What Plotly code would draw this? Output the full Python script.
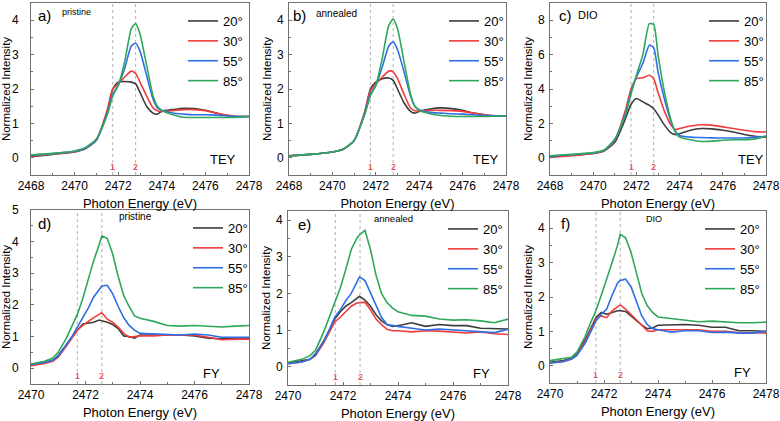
import plotly.graph_objects as go

angles = ["20°", "30°", "55°", "85°"]
colors = ["#3c3c3c", "#f03c3c", "#2f6fe6", "#2ea85a"]

# ---- TEY (top row) energies ----
energy_tey = [2468, 2469, 2470, 2470.5, 2471, 2471.5, 2471.75, 2472, 2472.3, 2472.6, 2472.8,
              2473, 2473.3, 2473.6, 2473.8, 2474, 2474.5, 2475, 2475.5, 2476, 2476.5, 2477, 2477.5, 2478]

a_20 = [0.03, 0.10, 0.17, 0.27, 0.52, 1.35, 2.00, 2.20, 2.22, 2.20, 2.15, 1.90, 1.50, 1.30, 1.27, 1.35, 1.40, 1.44, 1.43, 1.38, 1.30, 1.22, 1.20, 1.20]
a_30 = [0.05, 0.11, 0.18, 0.27, 0.52, 1.40, 2.00, 2.15, 2.35, 2.52, 2.45, 2.20, 1.80, 1.45, 1.37, 1.35, 1.37, 1.40, 1.40, 1.37, 1.30, 1.24, 1.20, 1.20]
a_55 = [0.07, 0.12, 0.19, 0.28, 0.52, 1.30, 1.85, 2.10, 2.60, 3.25, 3.33, 3.10, 2.40, 1.70, 1.45, 1.38, 1.30, 1.27, 1.25, 1.25, 1.24, 1.22, 1.20, 1.20]
a_85 = [0.08, 0.13, 0.20, 0.30, 0.55, 1.25, 1.80, 2.10, 2.80, 3.75, 3.90, 3.60, 2.70, 1.80, 1.50, 1.38, 1.25, 1.18, 1.17, 1.17, 1.17, 1.17, 1.18, 1.20]

b_20 = [0.06, 0.10, 0.17, 0.25, 0.50, 1.35, 2.00, 2.20, 2.30, 2.32, 2.25, 2.00, 1.60, 1.35, 1.30, 1.35, 1.42, 1.45, 1.43, 1.38, 1.30, 1.25, 1.22, 1.22]
b_30 = [0.06, 0.10, 0.17, 0.25, 0.50, 1.35, 1.95, 2.15, 2.35, 2.52, 2.50, 2.30, 1.85, 1.45, 1.37, 1.36, 1.38, 1.38, 1.37, 1.35, 1.30, 1.25, 1.22, 1.22]
b_55 = [0.06, 0.10, 0.17, 0.25, 0.50, 1.30, 1.85, 2.10, 2.65, 3.25, 3.37, 3.15, 2.50, 1.80, 1.50, 1.40, 1.32, 1.30, 1.28, 1.27, 1.25, 1.23, 1.22, 1.22]
b_85 = [0.06, 0.10, 0.17, 0.25, 0.50, 1.28, 1.80, 2.10, 2.90, 3.85, 4.03, 3.75, 2.80, 1.85, 1.50, 1.38, 1.28, 1.23, 1.21, 1.20, 1.20, 1.20, 1.21, 1.22]

c_20 = [0.05, 0.15, 0.25, 0.40, 0.90, 2.30, 3.10, 3.45, 3.25, 3.05, 2.85, 2.50, 1.90, 1.45, 1.35, 1.40, 1.60, 1.70, 1.68, 1.60, 1.50, 1.35, 1.25, 1.20]
c_30 = [0.02, 0.12, 0.25, 0.40, 1.00, 2.80, 4.00, 4.60, 4.65, 4.80, 4.60, 3.80, 2.70, 1.90, 1.65, 1.70, 1.85, 1.92, 1.90, 1.80, 1.70, 1.60, 1.52, 1.50]
c_55 = [0.10, 0.18, 0.28, 0.42, 1.05, 2.60, 3.80, 4.70, 5.50, 6.55, 6.40, 5.00, 3.40, 2.10, 1.55, 1.30, 1.20, 1.18, 1.16, 1.15, 1.15, 1.15, 1.20, 1.25]
c_85 = [0.12, 0.20, 0.30, 0.45, 1.10, 2.50, 3.70, 4.80, 6.00, 7.80, 7.75, 6.00, 3.80, 2.20, 1.50, 1.20, 1.05, 0.95, 0.97, 1.02, 1.05, 1.05, 1.10, 1.25]

# ---- FY (bottom row) energies ----
energy_fy = [2470, 2470.5, 2470.8, 2471, 2471.3, 2471.5, 2471.7, 2471.9, 2472.1, 2472.3, 2472.5, 2472.6, 2472.8,
             2473, 2473.2, 2473.4, 2473.6, 2473.8, 2474, 2474.5, 2475, 2475.5, 2476, 2476.5, 2477, 2477.5, 2478]

d_20 = [0.10, 0.18, 0.25, 0.40, 0.75, 1.00, 1.20, 1.40, 1.42, 1.45, 1.52, 1.50, 1.45, 1.38, 1.25, 1.02, 1.00, 0.95, 1.05, 1.05, 1.05, 1.05, 1.02, 0.95, 0.93, 0.95, 0.93]
d_30 = [0.08, 0.15, 0.22, 0.35, 0.70, 0.95, 1.20, 1.35, 1.48, 1.60, 1.70, 1.75, 1.55, 1.45, 1.30, 1.10, 0.98, 1.00, 1.02, 1.02, 1.05, 1.05, 1.05, 0.98, 0.90, 0.92, 0.92]
d_55 = [0.12, 0.18, 0.25, 0.38, 0.75, 1.00, 1.30, 1.60, 1.90, 2.25, 2.50, 2.60, 2.62, 2.35, 1.95, 1.60, 1.35, 1.20, 1.10, 1.08, 1.05, 1.05, 1.08, 1.05, 0.98, 0.97, 0.98]
d_85 = [0.13, 0.22, 0.32, 0.50, 0.95, 1.30, 1.70, 2.20, 2.80, 3.40, 3.90, 4.18, 4.10, 3.60, 2.90, 2.30, 1.95, 1.65, 1.58, 1.48, 1.35, 1.33, 1.35, 1.33, 1.30, 1.33, 1.35]

e_20 = [0.10, 0.15, 0.20, 0.35, 0.70, 1.00, 1.30, 1.50, 1.65, 1.75, 1.85, 1.92, 1.82, 1.65, 1.42, 1.25, 1.15, 1.10, 1.12, 1.20, 1.10, 1.15, 1.12, 1.12, 1.05, 1.05, 1.03]
e_30 = [0.08, 0.13, 0.20, 0.30, 0.65, 0.95, 1.22, 1.35, 1.50, 1.65, 1.74, 1.75, 1.76, 1.55, 1.30, 1.15, 1.02, 0.98, 0.98, 0.95, 0.98, 0.97, 0.95, 0.92, 0.95, 0.90, 0.88]
e_55 = [0.08, 0.13, 0.20, 0.32, 0.70, 1.00, 1.35, 1.55, 1.80, 2.00, 2.30, 2.45, 2.35, 2.00, 1.65, 1.35, 1.15, 1.12, 1.10, 1.05, 1.00, 1.03, 1.00, 0.98, 0.95, 0.93, 1.02]
e_85 = [0.12, 0.20, 0.30, 0.45, 0.95, 1.35, 1.70, 2.15, 2.65, 3.20, 3.50, 3.60, 3.72, 3.20, 2.50, 2.00, 1.75, 1.60, 1.50, 1.40, 1.38, 1.30, 1.27, 1.28, 1.25, 1.20, 1.30]

f_20 = [0.10, 0.15, 0.22, 0.35, 0.75, 1.10, 1.40, 1.55, 1.50, 1.55, 1.60, 1.60, 1.58, 1.45, 1.32, 1.18, 1.08, 1.10, 1.18, 1.20, 1.20, 1.18, 1.12, 1.12, 1.02, 1.02, 1.00]
f_30 = [0.08, 0.13, 0.20, 0.32, 0.70, 1.05, 1.35, 1.45, 1.40, 1.60, 1.72, 1.77, 1.65, 1.50, 1.35, 1.18, 1.02, 1.00, 1.05, 1.05, 1.05, 1.05, 1.00, 1.00, 0.97, 0.95, 0.95]
f_55 = [0.08, 0.12, 0.20, 0.30, 0.65, 1.00, 1.30, 1.50, 1.65, 2.05, 2.40, 2.48, 2.52, 2.30, 1.85, 1.45, 1.20, 1.08, 1.05, 0.98, 1.02, 1.02, 0.97, 0.98, 0.95, 0.95, 1.00]
f_85 = [0.15, 0.20, 0.25, 0.40, 0.85, 1.25, 1.60, 2.05, 2.50, 3.00, 3.50, 3.82, 3.72, 3.30, 2.70, 2.10, 1.75, 1.55, 1.42, 1.37, 1.32, 1.28, 1.30, 1.27, 1.25, 1.25, 1.27]

# marker lines (energies of features 1 and 2)
lines_a = [2471.75, 2472.8]
lines_b = [2471.75, 2472.8]
lines_c = [2471.75, 2472.8]
lines_d = [2471.7, 2472.6]
lines_e = [2471.72, 2472.62]
lines_f = [2471.7, 2472.6]

panel_letters = ["a)", "b)", "c)", "d)", "e)", "f)"]
sample_names = ["pristine", "annealed", "DIO", "pristine", "annealed", "DIO"]
modes = ["TEY", "TEY", "TEY", "FY", "FY", "FY"]
x_ticks_top = [2468, 2470, 2472, 2474, 2476, 2478]
x_ticks_bottom = [2470, 2472, 2474, 2476, 2478]

W, H = 780, 421
def px_x(v):
    return v / W
def px_y(v):
    return 1 - v / H

panels = [
    dict(x=energy_tey, ys=[a_20, a_30, a_55, a_85], lines=lines_a, xr=[2468, 2478], yr=[-0.5, 4.5], ydt=1,
         dom=(31, 249, 3, 175), spline=True),
    dict(x=energy_tey, ys=[b_20, b_30, b_55, b_85], lines=lines_b, xr=[2468, 2478], yr=[-0.5, 4.5], ydt=1,
         dom=(289, 506, 3, 175), spline=True),
    dict(x=energy_tey, ys=[c_20, c_30, c_55, c_85], lines=lines_c, xr=[2468, 2478], yr=[-1, 9], ydt=2,
         dom=(550, 766, 3, 175), spline=True),
    dict(x=energy_fy, ys=[d_20, d_30, d_55, d_85], lines=lines_d, xr=[2470, 2478], yr=[-0.5, 5], ydt=1,
         dom=(31, 249, 210, 384), spline=False),
    dict(x=energy_fy, ys=[e_20, e_30, e_55, e_85], lines=lines_e, xr=[2470, 2478], yr=[-0.5, 4.25], ydt=1,
         dom=(288, 508, 211, 385), spline=False),
    dict(x=energy_fy, ys=[f_20, f_30, f_55, f_85], lines=lines_f, xr=[2470, 2478], yr=[-0.5, 4.5], ydt=1,
         dom=(550, 766, 211, 383), spline=False),
]

# text positions in axis-domain units
label_pos = [(0.06, 0.93), (0.05, 0.93), (0.07, 0.93), (0.06, 0.925), (0.077, 0.925), (0.07, 0.925)]
sample_pos = [(0.21, 0.95, 9), (0.22, 0.94, 10), (0.175, 0.93, 11), (0.48, 0.965, 10), (0.48, 0.955, 9.5), (0.48, 0.955, 9)]
mode_pos = [(0.88, 0.09), (0.906, 0.093), (0.93, 0.09), (0.83, 0.06), (0.88, 0.065), (0.89, 0.06)]
legend_left = [183, 444, 704, 188, 443, 700]

fig = go.Figure()
layout = dict(width=W, height=H, margin=dict(l=0, r=0, t=0, b=0),
              paper_bgcolor="white", plot_bgcolor="white",
              font=dict(family="Liberation Sans, Arial, sans-serif", color="black"),
              shapes=[], annotations=[])
axis_col = "#707070"

for i, p in enumerate(panels):
    n = i + 1
    xa = "x" if n == 1 else f"x{n}"
    ya = "y" if n == 1 else f"y{n}"
    lg = "legend" if n == 1 else f"legend{n}"
    l, r, t, b = p["dom"]
    for k in range(4):
        fig.add_trace(go.Scatter(
            x=p["x"], y=p["ys"][k], mode="lines", name=angles[k],
            line=dict(color=colors[k], width=1.6,
                      shape="spline" if p["spline"] else "linear", smoothing=0.6),
            xaxis=xa, yaxis=ya, legend=lg, showlegend=True))
    left_col = i % 3 == 0
    layout[f"xaxis{'' if n == 1 else n}"] = dict(
        domain=[px_x(l), px_x(r)], anchor=ya, range=p["xr"], automargin=False,
        tickvals=x_ticks_top if i < 3 else x_ticks_bottom,
        showline=True, mirror=True, linecolor=axis_col, linewidth=1,
        ticks="inside", ticklen=3, tickcolor=axis_col,
        minor=dict(ticks="inside", ticklen=2, dtick=1, tickcolor=axis_col),
        showgrid=False, zeroline=False,
        tickfont=dict(size=12, color="black"),
        title=dict(text="Photon Energy (eV)", font=dict(size=13), standoff=6))
    layout[f"yaxis{'' if n == 1 else n}"] = dict(
        domain=[px_y(b), px_y(t)], anchor=xa, range=p["yr"], dtick=p["ydt"], tick0=0, automargin=False,
        showline=True, mirror=True, linecolor=axis_col, linewidth=1,
        ticks="inside", ticklen=3, tickcolor=axis_col,
        minor=dict(ticks="inside", ticklen=2, dtick=p["ydt"] / 2, tickcolor=axis_col),
        showgrid=False, zeroline=False,
        tickfont=dict(size=12, color="black"),
        ticklabelstandoff=9 if left_col else 2,
        title=dict(text="Normalized Intensity", font=dict(size=11.5), standoff=2))
    layout[lg] = dict(x=px_x(legend_left[i]), y=px_y(t + 3), xanchor="left", yanchor="top",
                      bgcolor="rgba(0,0,0,0)", borderwidth=0, font=dict(size=13),
                      itemwidth=30, tracegroupgap=0)
    for j, e in enumerate(p["lines"]):
        layout["shapes"].append(dict(type="line", xref=xa, yref=f"{ya} domain", x0=e, x1=e, y0=0, y1=1,
                                     line=dict(color="#b0b0b0", width=1, dash="dot"), layer="below"))
        layout["annotations"].append(dict(x=e, xref=xa, y=0.045, yref=f"{ya} domain", text=str(j + 1),
                                          showarrow=False, font=dict(size=9, color="#e83030"),
                                          yanchor="middle", xanchor="center"))
    lx, ly = label_pos[i]
    layout["annotations"].append(dict(x=lx, y=ly, xref=f"{xa} domain", yref=f"{ya} domain",
                                      text=panel_letters[i], showarrow=False,
                                      font=dict(size=15), xanchor="center", yanchor="middle"))
    sx, sy, ss = sample_pos[i]
    layout["annotations"].append(dict(x=sx, y=sy, xref=f"{xa} domain", yref=f"{ya} domain",
                                      text=sample_names[i], showarrow=False,
                                      font=dict(size=ss), xanchor="center", yanchor="middle"))
    mx, my = mode_pos[i]
    layout["annotations"].append(dict(x=mx, y=my, xref=f"{xa} domain", yref=f"{ya} domain",
                                      text=modes[i], showarrow=False,
                                      font=dict(size=13), xanchor="center", yanchor="middle"))

fig.update_layout(**layout)
fig.write_html("out.html", config={"displayModeBar": False},
               post_script="document.body.style.margin='0';document.body.style.overflow='hidden';")
